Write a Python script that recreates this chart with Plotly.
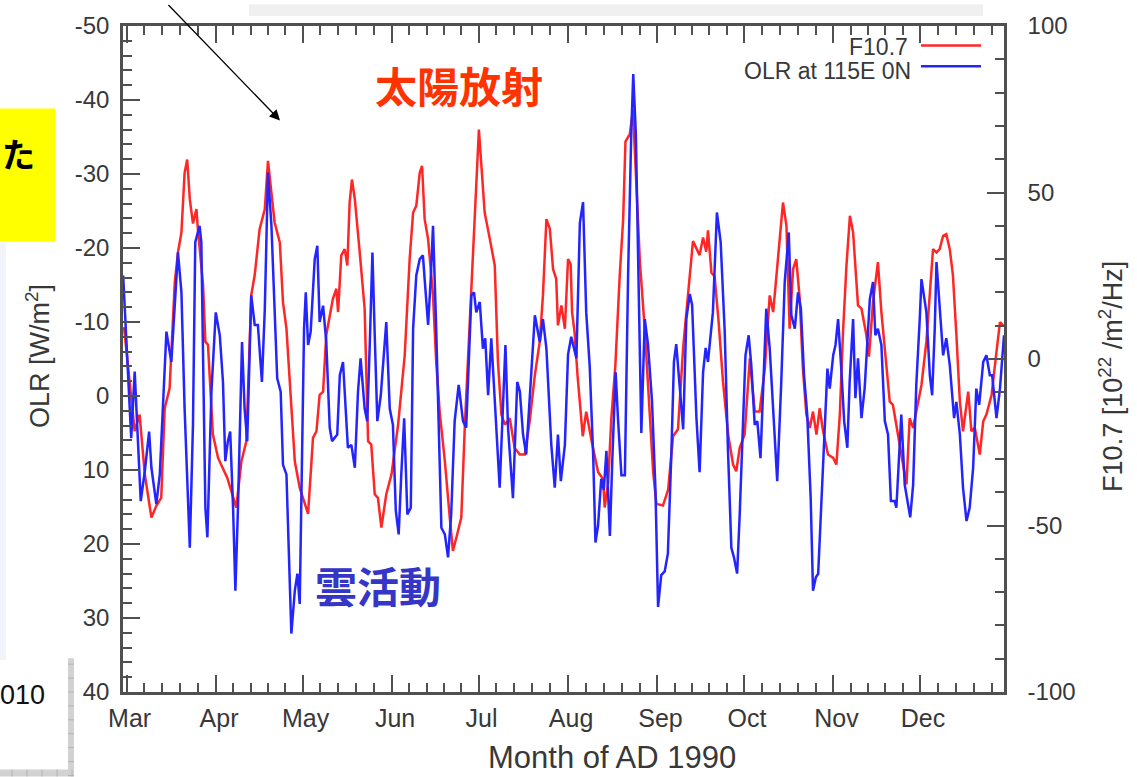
import plotly.graph_objects as go

# ---------------- data ----------------
# x = days since 1 Mar 1990
month_names = ["Mar", "Apr", "May", "Jun", "Jul", "Aug", "Sep", "Oct", "Nov", "Dec"]
month_start = [0, 31, 61, 92, 122, 153, 184, 214, 245, 275, 306]

f107_day = [
    -0.9, 1.5, 2.8, 4.5, 6.3, 8.6, 10.3, 12.0, 13.2, 14.9,
    16.7, 17.8, 19.0, 20.1, 21.0, 21.9, 23.0, 24.2, 24.7, 26.5,
    27.3, 28.2, 29.9, 31.7, 33.4, 34.9, 36.3, 38.0, 39.8, 41.5,
    43.2, 44.4, 46.1, 47.9, 49.0, 51.3, 53.1, 54.2, 55.4, 57.1,
    58.3, 60.0, 61.7, 62.9, 64.6, 65.8, 66.9, 68.1, 69.2, 71.5,
    72.7, 73.3, 74.4, 75.6, 76.5, 77.3, 78.1, 79.1, 80.8, 82.5,
    83.7, 84.8, 86.0, 87.1, 88.3, 90.0, 91.8, 94.1, 96.4, 98.1,
    99.3, 100.4, 101.6, 102.4, 103.3, 104.5, 106.2, 107.3, 108.5, 110.3,
    112.0, 113.1, 114.3, 116.0, 117.2, 118.3, 119.5, 121.2, 122.1, 122.9,
    124.1, 125.9, 127.6, 128.7, 129.9, 131.1, 132.8, 134.5, 136.3, 138.0,
    139.7, 141.5, 143.2, 144.3, 145.5, 146.7, 147.8, 148.9, 149.5, 150.7,
    151.9, 153.0, 153.9, 154.4, 155.3, 156.3, 158.1, 159.3, 161.1, 163.4,
    165.1, 165.7, 166.9, 168.0, 169.4, 170.9, 172.1, 172.9, 174.4, 175.5,
    176.7, 177.9, 179.6, 181.3, 182.5, 183.6, 185.9, 187.7, 189.4, 191.1,
    192.9, 194.6, 196.3, 198.6, 199.8, 200.9, 201.5, 202.7, 203.8, 205.2,
    206.7, 208.5, 210.2, 211.3, 212.5, 214.2, 216.0, 217.7, 219.4, 221.2,
    222.9, 224.1, 225.8, 227.5, 228.7, 229.8, 231.0, 232.1, 233.3, 234.4,
    235.6, 236.8, 237.9, 239.1, 240.2, 241.4, 243.1, 244.9, 246.0, 247.2,
    248.3, 249.5, 250.7, 251.8, 253.5, 254.7, 256.4, 257.3, 258.7, 260.4,
    261.6, 263.3, 264.5, 265.6, 267.4, 269.1, 270.3, 271.4, 272.6, 273.7,
    275.5, 277.2, 278.4, 279.5, 280.7, 281.8, 283.0, 284.1, 285.3, 286.4,
    287.6, 288.8, 289.9, 291.1, 291.7, 292.8, 294.0, 295.7, 296.9, 298.0,
    299.8, 301.5, 302.7, 303.8,
]
f107_val = [
    9.6, -10.7, -21.7, -16.7, -34.6, -47.6, -44.1, -41.7, -14.8, -8.8,
    23.1, 32.0, 38.0, 55.9, 59.9, 48.0, 40.7, 45.0, 39.0, 22.2,
    5.2, 4.3, -22.6, -29.7, -32.7, -35.7, -39.7, -44.6, -30.7, -24.7,
    19.2, 25.2, 39.0, 45.0, 59.5, 41.0, 35.0, 17.1, 9.1, -12.8,
    -30.7, -38.7, -43.6, -46.5, -23.7, -21.7, -10.8, -9.8, 7.2, 18.1,
    21.1, 14.1, 31.1, 33.0, 28.1, 47.0, 53.9, 48.0, 32.0, 15.1,
    -24.7, -25.7, -40.6, -41.7, -50.6, -40.6, -34.7, -19.7, 1.2, 30.0,
    44.0, 46.0, 55.9, 58.0, 42.0, 36.0, 19.1, -0.8, -15.8, -30.7,
    -47.6, -57.6, -53.6, -47.6, -20.7, -0.8, 25.1, 55.9, 68.9, 58.9,
    44.0, 36.0, 28.1, -0.8, -16.7, -19.7, -17.8, -26.7, -28.7, -28.7,
    -18.7, -4.8, 5.2, 19.1, 42.0, 39.0, 27.0, 24.1, 10.1, 16.1,
    9.1, 30.0, 28.5, 14.1, 7.7, -5.1, -23.2, -15.8, -24.3, -33.9,
    -36.0, -44.6, -37.1, -17.8, -1.9, 24.9, 41.9, 65.3, 67.5, 74.9,
    51.5, 29.1, 8.8, -17.8, -33.9, -43.5, -44.0, -39.2, -23.2, -21.1,
    3.5, 19.5, 35.4, 31.2, 36.5, 32.2, 38.6, 25.9, 24.8, 11.1,
    -6.8, -22.7, -31.7, -33.7, -26.7, -22.7, 0.2, -15.8, -15.8, -2.8,
    19.1, 14.1, 30.0, 47.0, 40.0, 9.1, 27.0, 30.0, 18.1, -2.8,
    -16.7, -20.7, -15.8, -22.7, -14.8, -21.7, -28.7, -29.7, -31.7, -16.7,
    8.1, 28.1, 43.0, 38.0, 16.1, 15.1, 7.2, 0.7, 17.1, 29.1,
    14.1, -0.8, -12.8, -13.8, -22.7, -30.7, -37.7, -17.8, -20.7, -15.8,
    -7.8, 5.2, 19.1, 33.0, 32.0, 33.0, 37.0, 37.5, 33.0, 25.1,
    7.2, -12.8, -21.7, -12.8, -9.8, -21.7, -20.7, -28.7, -18.7, -16.7,
    -10.8, 2.2, 11.1, 10.1,
]

olr_day = [
    -1.2, -0.1, 1.6, 2.8, 3.4, 4.9, 6.3, 7.8, 8.6, 10.3,
    11.5, 12.6, 13.8, 15.5, 16.7, 17.8, 19.0, 20.1, 21.9, 23.0,
    23.8, 25.3, 25.9, 26.5, 27.3, 28.0, 29.4, 30.9, 32.3, 33.4,
    34.2, 35.1, 35.9, 36.9, 37.7, 38.6, 40.0, 40.9, 41.8, 43.2,
    44.4, 45.5, 46.9, 47.9, 49.0, 50.2, 51.3, 52.2, 53.4, 54.2,
    55.4, 56.2, 57.1, 58.3, 59.2, 60.0, 60.8, 61.5, 62.1, 62.9,
    63.8, 65.2, 66.1, 66.9, 68.1, 69.2, 70.4, 71.2, 73.0, 73.9,
    75.0, 76.7, 77.9, 79.1, 80.2, 81.1, 82.5, 83.4, 84.3, 85.2,
    86.0, 86.9, 88.1, 90.0, 91.2, 92.3, 93.3, 94.3, 95.2, 96.2,
    97.3, 98.5, 99.3, 100.4, 101.6, 102.7, 103.3, 104.5, 105.4, 106.2,
    107.3, 107.9, 109.1, 110.3, 111.4, 112.5, 113.7, 115.1, 116.6, 117.7,
    119.5, 120.4, 121.2, 122.4, 123.5, 124.3, 125.3, 126.4, 127.6, 129.3,
    131.3, 132.2, 133.9, 135.4, 136.3, 137.4, 138.5, 139.7, 141.5, 143.2,
    144.3, 145.5, 147.2, 148.4, 149.5, 150.5, 151.9, 153.0, 154.1, 155.9,
    157.1, 158.2, 159.3, 160.5, 161.7, 162.5, 163.4, 164.5, 165.4, 166.3,
    167.5, 168.4, 169.5, 170.3, 171.5, 172.7, 173.8, 174.9, 175.6, 176.5,
    177.5, 178.4, 179.6, 180.7, 182.1, 183.3, 184.2, 185.3, 186.5, 187.6,
    188.8, 189.7, 190.5, 191.7, 192.9, 194.0, 195.2, 196.0, 197.5, 198.6,
    199.8, 200.7, 201.5, 203.2, 204.6, 205.9, 207.3, 208.4, 209.6, 210.5,
    211.6, 212.5, 213.7, 214.5, 215.6, 216.5, 217.7, 218.6, 219.7, 220.6,
    221.7, 222.9, 224.1, 225.5, 226.9, 228.1, 229.5, 230.4, 231.6, 232.7,
    233.7, 234.8, 235.9, 237.1, 237.9, 238.9, 239.7, 240.8, 242.0, 242.9,
    243.7, 244.9, 245.7, 246.6, 247.7, 248.7, 249.8, 250.6, 251.8, 252.6,
    253.5, 254.7, 255.8, 257.6, 258.7, 259.5, 260.4, 261.6, 262.8, 263.9,
    264.9, 266.2, 266.8, 268.5, 269.7, 271.6, 272.6, 273.7, 274.9, 275.5,
    277.2, 278.4, 279.2, 280.1, 280.7, 281.8, 283.0, 284.1, 285.3, 286.8,
    287.6, 288.8, 289.9, 291.1, 292.2, 293.4, 294.5, 295.5, 296.9, 298.0,
    299.2, 300.0, 301.5, 302.7, 304.1,
]
olr_val = [
    -16.3, -7.3, 5.7, -3.3, 1.7, 14.2, 10.2, 4.8, 9.7, 14.6,
    10.6, 0.8, -8.7, -4.6, -11.8, -19.4, -14.0, 1.7, 20.5, 3.9,
    -20.8, -23.0, -20.8, -2.8, 15.1, 19.1, -0.6, -11.3, -8.2, -1.9,
    8.8, 6.1, 4.8, 15.1, 26.3, 15.1, -7.3, 1.7, 6.1, -13.6,
    -9.6, -9.6, -1.9, -11.8, -30.2, -23.0, -11.8, -2.4, -0.6, 9.3,
    10.6, 19.6, 32.1, 26.3, 24.0, 28.1, 6.1, -9.1, -14.0, -6.9,
    -8.7, -18.5, -20.3, -10.0, -12.2, -7.3, 4.3, 6.1, 5.2, -2.8,
    -4.6, 7.0, 6.6, 9.7, -0.6, -5.1, 1.7, 3.4, -7.3, -19.4,
    -8.2, 3.4, -0.1, -10.0, 1.7, 3.9, 15.5, 18.7, 10.6, 3.0,
    16.0, 15.1, -9.1, -16.3, -18.5, -19.0, -15.8, -9.6, -15.8, -23.0,
    -9.1, -0.1, 17.8, 18.7, 21.8, 16.0, 3.4, -1.5, 3.4, 4.3,
    -13.6, -14.0, -11.3, -12.7, -6.4, -7.8, -0.1, -7.8, -0.1, 12.4,
    -6.9, 4.3, 13.8, -1.9, -0.6, 5.2, 7.9, -0.1, -10.9, -7.3,
    -10.4, -6.4, 6.6, 12.4, 5.2, 11.5, 6.6, -5.6, -8.0, -5.1,
    -23.4, -26.2, -11.3, -4.1, 7.9, 19.8, 17.5, 11.2, 12.7, 7.4,
    18.9, 7.9, -3.2, 3.0, 10.7, 10.7, -16.1, -35.4, -43.5, -35.4,
    -11.3, 5.0, -10.4, -7.0, 0.7, 12.7, 28.5, 24.2, 23.7, 21.3,
    7.9, -4.6, -7.0, -1.7, 4.5, -10.4, -13.8, -12.3, 3.0, 10.3,
    -3.2, -6.5, -4.6, -11.3, -24.8, -20.8, -8.7, 7.0, 20.5, 21.8,
    24.0, 16.0, 2.5, -5.5, -8.2, -4.2, 3.9, 3.4, 8.4, -1.9,
    -11.8, -6.4, 2.5, 11.5, -1.9, -15.4, -22.1, -10.9, -9.1, -14.0,
    -11.8, -2.8, 2.5, 13.8, 26.3, 24.5, 24.0, 13.8, 2.5, -3.7,
    -1.0, -5.5, -6.9, -10.4, -3.7, 3.4, 7.0, -1.9, -10.4, 0.3,
    -5.1, 3.0, -1.0, -13.1, -15.4, -8.2, -9.1, -6.9, 3.4, 5.2,
    14.2, 14.2, 15.1, 2.5, 12.0, 16.4, 12.0, -1.5, -10.4, -15.8,
    -11.3, -2.8, -0.1, -9.1, -18.1, -12.2, -5.5, -7.8, -4.2, 3.0,
    0.8, 5.2, 12.4, 16.9, 15.1, 9.7, -1.0, 1.2, -4.6, -5.5,
    -2.8, -2.8, 3.0, -1.0, -8.2,
]

olr_ticks = [-50, -40, -30, -20, -10, 0, 10, 20, 30, 40]
olr_tick_text = ["-50", "-40", "-30", "-20", "-10", "0", "10", "20", "30", "40"]
f107_ticks = [-100, -50, 0, 50, 100]
f107_tick_text = ["-100", "-50", "0", "50", "100"]

# ---------------- layout geometry ----------------
W, H = 1137, 777
PX0, PX1 = 123, 1004      # plot area left/right (px)
PY0, PY1 = 22, 692        # plot area top/bottom (px)


def fx(px):
    return (px - PX0) / (PX1 - PX0)


def fy(py):
    return (PY1 - py) / (PY1 - PY0)


AX = "#505050"
TXT = "#383838"
LAT = "Liberation Sans, Arial, Helvetica, sans-serif"
CJK = "Noto Sans CJK JP, sans-serif"

minor_x = []
for i in range(len(month_start) - 1):
    a, b = month_start[i], month_start[i + 1]
    for k in range(1, 5):
        minor_x.append(a + k * (b - a) / 5)

fig = go.Figure()
# red F10.7 on primary (right-side) axis, drawn first
fig.add_trace(go.Scatter(x=f107_day, y=f107_val, mode="lines", name="F10.7",
                         line=dict(color="#ff2626", width=2.5), yaxis="y",
                         showlegend=False))
# blue OLR on the overlaying (left-side, reversed) axis, drawn on top
fig.add_trace(go.Scatter(x=olr_day, y=olr_val, mode="lines", name="OLR at 115E 0N",
                         line=dict(color="#2424ff", width=2.5), yaxis="y2",
                         showlegend=False))

tickfont = dict(family=LAT, size=24, color=TXT)
fig.update_layout(
    width=W, height=H,
    margin=dict(l=PX0, r=W - PX1, t=PY0, b=H - PY1, pad=0),
    paper_bgcolor="white", plot_bgcolor="white",
    showlegend=False,
    xaxis=dict(
        range=[-1.25, 304.1], tickmode="array",
        tickvals=month_start[:-1], ticktext=month_names,
        ticks="inside", ticklen=17, tickwidth=2, tickcolor=AX,
        showline=True, linecolor=AX, linewidth=2.5, mirror="ticks",
        showgrid=False, zeroline=False, tickfont=dict(family=LAT, size=25, color=TXT),
        ticklabelstandoff=2, ticklabelshift=3,
        minor=dict(tickmode="array", tickvals=minor_x, ticks="inside", ticklen=9,
                   tickwidth=2, tickcolor=AX, showgrid=False),
    ),
    yaxis=dict(
        side="right", range=[-100, 100], tickmode="array", tickvals=f107_ticks,
        ticktext=f107_tick_text,
        ticks="inside", ticklen=17, tickwidth=2, tickcolor=AX,
        showline=True, linecolor=AX, linewidth=2.5,
        showgrid=False, zeroline=False, tickfont=tickfont, ticklabelstandoff=16,
        minor=dict(dtick=10, tick0=0, ticks="inside", ticklen=9, tickwidth=2,
                   tickcolor=AX, showgrid=False),
    ),
    yaxis2=dict(
        overlaying="y", side="left", range=[40, -50], tickmode="array",
        tickvals=olr_ticks, ticktext=olr_tick_text,
        ticks="inside", ticklen=17, tickwidth=2, tickcolor=AX,
        showline=True, linecolor=AX, linewidth=2.5,
        showgrid=False, zeroline=False, tickfont=tickfont, ticklabelstandoff=6,
        minor=dict(dtick=2, tick0=0, ticks="inside", ticklen=9, tickwidth=2,
                   tickcolor=AX, showgrid=False),
    ),
)

shapes = []
annos = []


def rect(x0, y0, x1, y1, color):
    shapes.append(dict(type="rect", xref="paper", yref="paper",
                       x0=fx(x0), x1=fx(x1), y0=fy(y1), y1=fy(y0),
                       fillcolor=color, line=dict(width=0), layer="below"))


def hline(x0, x1, y, color, width):
    shapes.append(dict(type="line", xref="paper", yref="paper",
                       x0=fx(x0), x1=fx(x1), y0=fy(y), y1=fy(y),
                       line=dict(color=color, width=width)))


# slide decorations around the chart
rect(249, 0, 983, 12, "#f0f0f0")
rect(0, 105, 55, 239, "#ffff00")
rect(0, 240, 6, 660, "#f3f3fa")
rect(0, 660, 68, 770, "#ffffff")
rect(68, 658, 74, 777, "#d2d2d2")
rect(0, 770, 74, 777, "#d2d2d2")
for yy in range(664, 777, 14):
    hline(68, 74, yy, "#b4b4b4", 1)
for xx in range(12, 74, 15):
    shapes.append(dict(type="line", xref="paper", yref="paper", x0=fx(xx), x1=fx(xx),
                       y0=fy(777), y1=fy(770), line=dict(color="#b4b4b4", width=1)))

# legend lines
hline(921, 981, 41.5, "#ff2626", 2.5)
hline(921, 981, 62.5, "#2424ff", 2.5)


def text(px, py, s, size, color, family=LAT, xanchor="center", angle=0, bold=False):
    annos.append(dict(x=fx(px), y=fy(py), xref="paper", yref="paper", text=s,
                      showarrow=False, xanchor=xanchor, yanchor="middle",
                      textangle=angle,
                      font=dict(family=family, size=size, color=color,
                                weight="bold" if bold else "normal")))


text(910, 43, "F10.7", 23, TXT, xanchor="right")
text(913, 67, "OLR at 115E 0N", 23, TXT, xanchor="right")

# axis titles
text(612, 758, "Month of AD 1990", 31, TXT)
text(38, 354, "OLR [W/m<sup>2</sup>]", 27, TXT, angle=-90)
text(1111, 375, "F10.7 [10<sup>22</sup> /m<sup>2</sup>/Hz]", 27, TXT, angle=-90)

# Japanese labels
text(459, 81, "太陽放射", 42, "#ff3300", family=CJK, bold=True)
text(378, 584, "雲活動", 42, "#3535c8", family=CJK, bold=True)
text(37, 150, "た", 33, "#000000", family=CJK, xanchor="right", bold=True)
text(47, 695, "010", 27, "#111111", xanchor="right")

# arrow
annos.append(dict(x=fx(280), y=fy(117), xref="paper", yref="paper", text="",
                  showarrow=True, ax=167 - 280, ay=0 - 117, axref="pixel", ayref="pixel",
                  arrowhead=2, arrowsize=1.6, arrowwidth=1.3, arrowcolor="#000000",
                  standoff=0))

fig.update_layout(shapes=shapes, annotations=annos)
fig.write_html("out.html")
